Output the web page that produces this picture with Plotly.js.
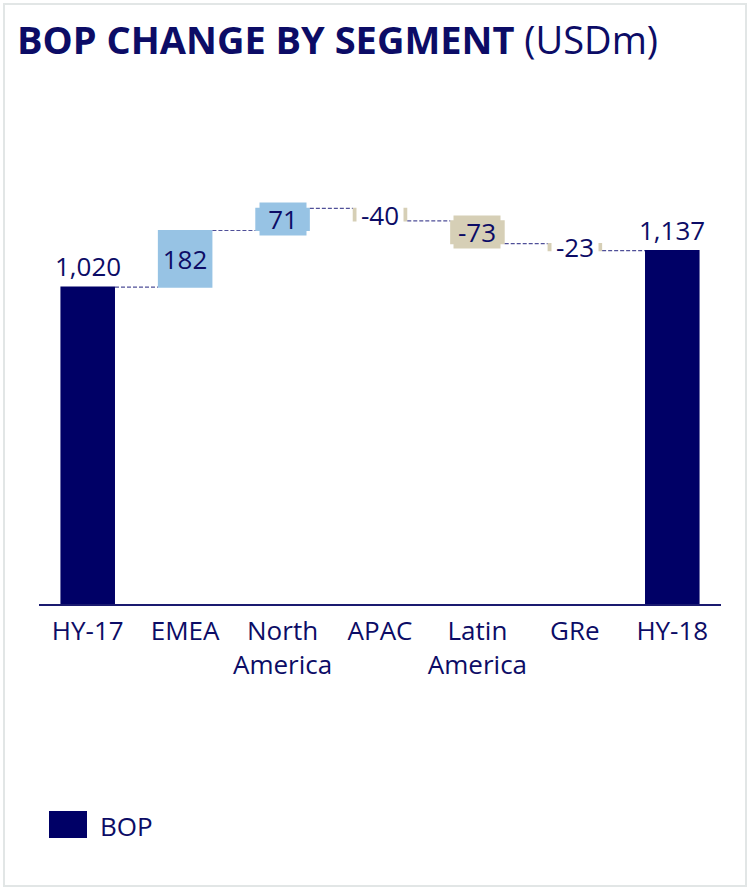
<!DOCTYPE html>
<html>
<head>
<meta charset="utf-8">
<script src="https://cdn.plot.ly/plotly-3.0.1.min.js"></script>
<style>
  html, body { margin: 0; padding: 0; background: #ffffff; }
  #wrap { position: relative; width: 750px; height: 889px; }
  #chart { width: 750px; height: 889px; }
  #frame { position: absolute; left: 3px; top: 3px; width: 740px; height: 880px;
           border: 2px solid #e2e6e6; pointer-events: none; }
</style>
</head>
<body>
<div id="wrap">
  <div id="chart"></div>
  <div id="frame"></div>
</div>
<script>
// ---- data ----
const categories = ['HY-17', 'EMEA', 'North<br>America', 'APAC', 'Latin<br>America', 'GRe', 'HY-18'];
const measures   = ['absolute', 'relative', 'relative', 'relative', 'relative', 'relative', 'total'];
const values     = [1020, 182, 71, -40, -73, -23, 1137];
const valueLabels = ['1,020', '182', '71', '-40', '-73', '-23', '1,137'];
const legendLabel = 'BOP';
const chartTitle = 'BOP CHANGE BY SEGMENT';
const unitLabel = '(USDm)';

// ---- styles ----
const NAVY = '#000066';
const TEXT = '#0c0c66';
const BLUE = '#97c3e4';
const BEIGE = '#d6cfb6';
const FONT = 'Open Sans, Noto Sans, sans-serif';

const trace = {
  type: 'waterfall',
  x: categories,
  y: values,
  measure: measures,
  width: 0.56,
  textinfo: 'none',
  hoverinfo: 'skip',
  increasing: { marker: { color: BLUE } },
  decreasing: { marker: { color: BEIGE } },
  totals: { marker: { color: NAVY } },
  connector: { mode: 'between', line: { color: '#4f4f98', width: 1.2, dash: '4px,2px' } },
  showlegend: false
};

// label annotations computed from the data
const annotations = [];
let running = 0;
for (let i = 0; i < values.length; i++) {
  const m = measures[i];
  if (m === 'absolute' || m === 'total') {
    running = (m === 'absolute') ? values[i] : running;
    annotations.push({
      x: categories[i], y: running, xref: 'x', yref: 'y',
      text: valueLabels[i], showarrow: false, yanchor: 'middle', yshift: 21,
      font: { family: FONT, size: 26, color: TEXT }
    });
  } else {
    const start = running;
    running += values[i];
    const mid = (start + running) / 2;
    let bg = values[i] >= 0 ? BLUE : BEIGE;
    if (Math.abs(values[i]) < 50) bg = '#ffffff';
    annotations.push({
      x: categories[i], y: mid, xref: 'x', yref: 'y',
      text: valueLabels[i], showarrow: false, yanchor: 'middle', xanchor: 'center',
      width: 46, height: 32, borderpad: 0, bgcolor: bg,
      font: { family: FONT, size: 26, color: TEXT }
    });
  }
}

// legend text
annotations.push({
  xref: 'paper', yref: 'paper', x: (98 - 39) / 682, y: (604 - 826) / 504,
  xanchor: 'left', yanchor: 'middle', showarrow: false, text: legendLabel,
  font: { family: FONT, size: 26, color: TEXT }
});

const layout = {
  width: 750, height: 889,
  margin: { l: 39, r: 29, t: 100, b: 285 },
  paper_bgcolor: '#ffffff', plot_bgcolor: '#ffffff',
  title: {
    text: '<b>' + chartTitle + '</b> <span style="font-weight:normal">' + unitLabel + '</span>',
    xref: 'container', yref: 'container', x: 17 / 750, xanchor: 'left',
    y: 1 - 41 / 889, yanchor: 'middle',
    font: { family: FONT, size: 38, color: TEXT }
  },
  xaxis: {
    type: 'category', showline: true, linecolor: '#1a1a70', linewidth: 2,
    ticks: '', showgrid: false, zeroline: false, ticklabelstandoff: 3,
    tickfont: { family: FONT, size: 26, color: TEXT }
  },
  yaxis: {
    range: [0, 1622], showgrid: false, zeroline: false, showticklabels: false,
    ticks: '', showline: false
  },
  annotations: annotations,
  shapes: [{
    type: 'rect', xref: 'paper', yref: 'paper',
    x0: (49 - 39) / 682, x1: (87 - 39) / 682,
    y0: (604 - 838) / 504, y1: (604 - 811) / 504,
    fillcolor: NAVY, line: { width: 0 }
  }],
  showlegend: false
};

Plotly.newPlot('chart', [trace], layout, { displayModeBar: false, staticPlot: true });
</script>
</body>
</html>
